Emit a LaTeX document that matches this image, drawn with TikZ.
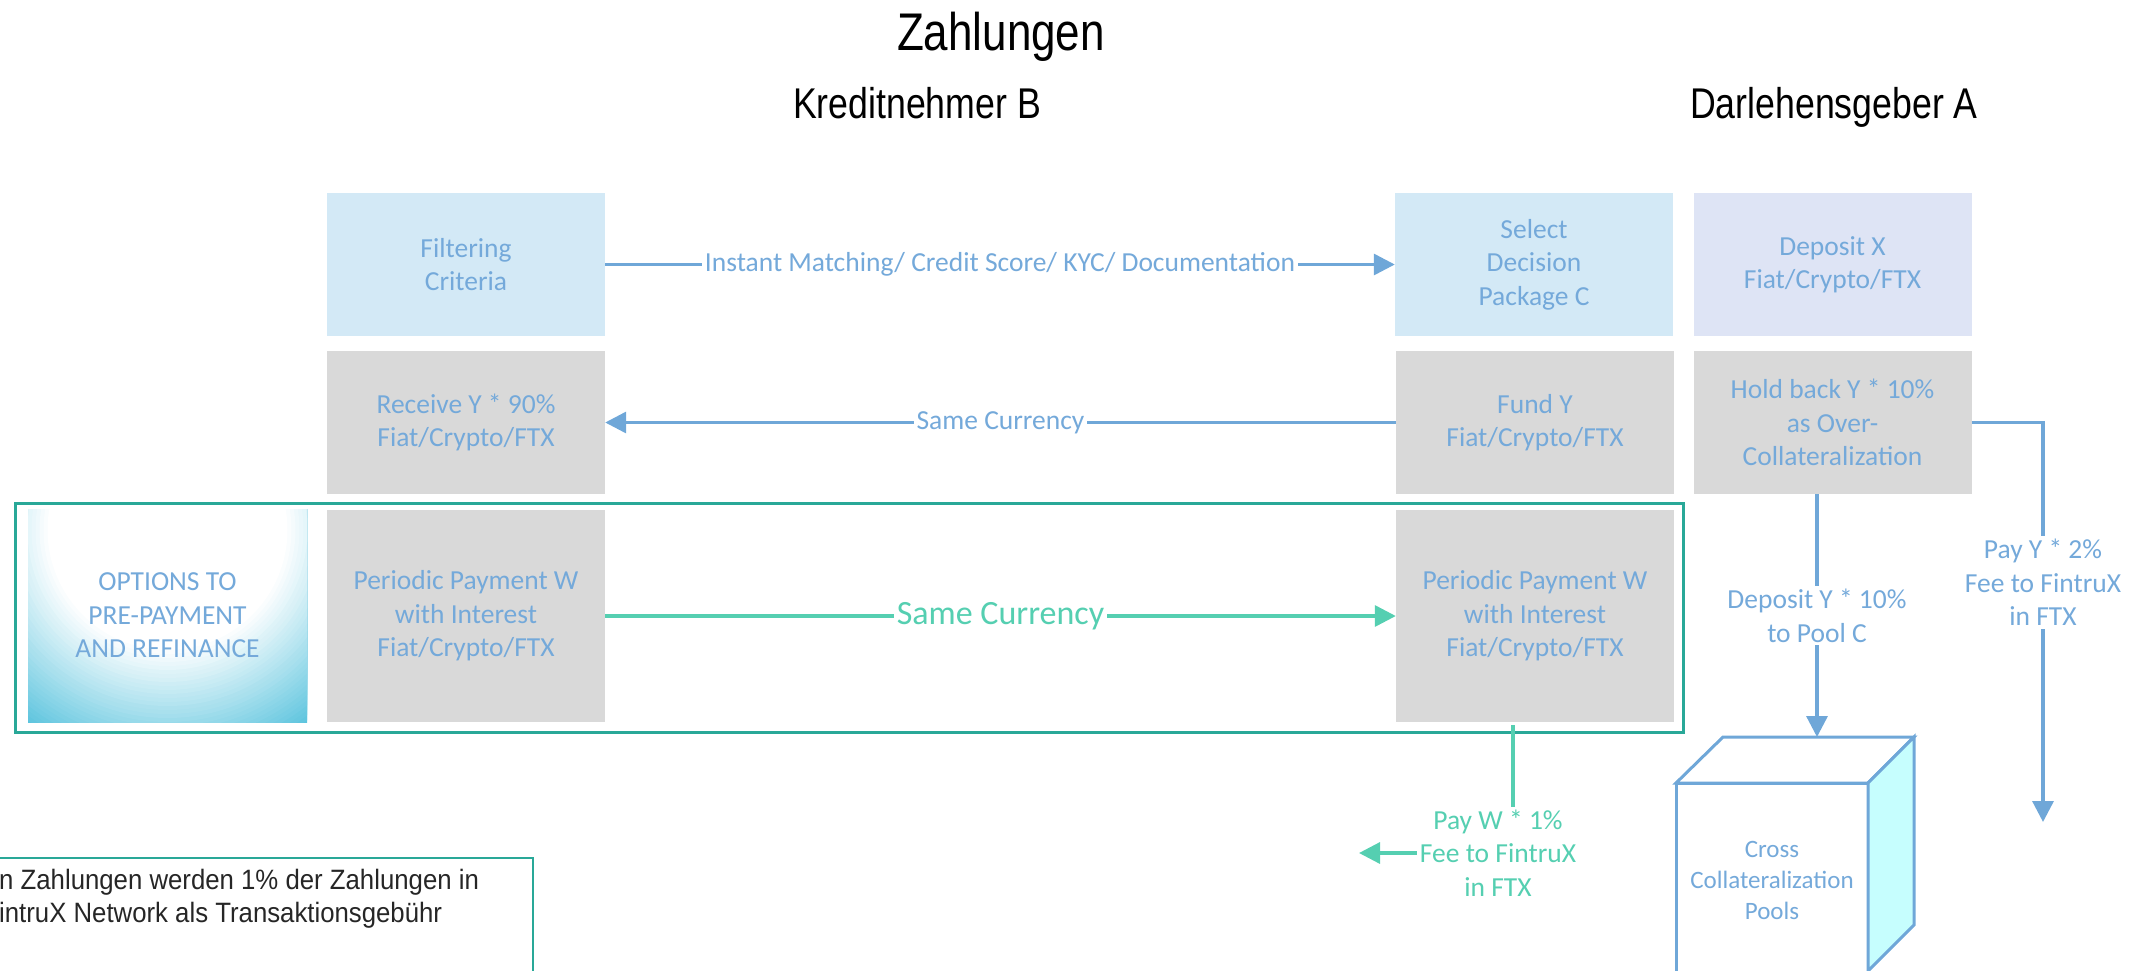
\documentclass[tikz,border=0pt]{standalone}
\usepackage{fontspec}
\setmainfont{Carlito}
\newfontfamily\headfont{Liberation Sans}[FakeStretch=0.83]
\newfontfamily\notefont{Liberation Sans}[FakeStretch=0.92]
\usetikzlibrary{arrows.meta}

\definecolor{boxblue}{HTML}{D3E9F6}
\definecolor{boxlilac}{HTML}{DEE4F5}
\definecolor{boxgrey}{HTML}{D9D9D9}
\definecolor{txtblue}{HTML}{74A9DA}
\definecolor{lineblue}{HTML}{6FA7D8}
\definecolor{mint}{HTML}{55CFB1}
\definecolor{frameteal}{HTML}{29A898}
\definecolor{optcyan}{HTML}{5CC4DE}
\definecolor{poolcyan}{HTML}{C6FEFE}

\begin{document}
\begin{tikzpicture}[x=1pt, y=-1pt,
    cell/.style={rectangle, minimum width=278pt, inner sep=2pt, text=txtblue, align=center, font=\fontsize{27.5}{33.5}\selectfont},
    tall/.style={minimum height=143pt},
    taller/.style={minimum height=212pt},
    flow/.style={line width=3.3pt, lineblue, -{Triangle[length=21pt,width=21pt]}},
    gflow/.style={line width=3.3pt, mint, -{Triangle[length=21pt,width=21pt]}},
    tag/.style={fill=white, text=txtblue, align=center, inner sep=3pt, font=\fontsize{27.5}{33.5}\selectfont},
    gtag/.style={tag, text=mint}]
    \useasboundingbox (0,0) rectangle (2153,970);
    \clip (0,0) rectangle (2153,970);

    \node[font=\headfont\fontsize{53}{60}\selectfont, anchor=base] (title) at (1001,50) {Zahlungen};
    \node[font=\headfont\fontsize{43}{50}\selectfont, anchor=base] (borrower) at (917,118) {Kreditnehmer B};
    \node[font=\headfont\fontsize{43}{50}\selectfont, anchor=base] (lender) at (1834,118) {Darlehensgeber A};

    % repayment frame
    \draw[frameteal, line width=3pt] (15,503) rectangle (1683,732);

    % glow behind the options box
    \begin{scope}
        \clip (28,509) rectangle (307,722);
        \foreach \r in {240,236,...,120} {
            \pgfmathtruncatemacro\mix{(\r-120)/1.2}
            \fill[optcyan!\mix!white] (167.5,530) circle (\r);
        }
    \end{scope}

    \node[cell, tall, fill=boxblue] (filt) at (466,264.5) {Filtering\\Criteria};
    \node[cell, tall, fill=boxblue] (sel) at (1534,264.5) {Select\\Decision\\Package C};
    \node[cell, tall, fill=boxlilac] (dep) at (1832.5,264.5) {Deposit X\\Fiat/Crypto/FTX};
    \node[cell, tall, fill=boxgrey] (recv) at (466,422.5) {Receive Y * 90\%\\Fiat/Crypto/FTX};
    \node[cell, tall, fill=boxgrey] (fund) at (1535,422.5) {Fund Y\\Fiat/Crypto/FTX};
    \node[cell, tall, fill=boxgrey] (hold) at (1832.5,422.5) {Hold back Y * 10\%\\as Over-\\Collateralization};
    \node[cell, taller, minimum width=279pt] (opts) at (167.5,615.5) {OPTIONS TO\\PRE-PAYMENT\\AND REFINANCE};
    \node[cell, taller, fill=boxgrey] (payB) at (466,616) {Periodic Payment W\\with Interest\\Fiat/Crypto/FTX};
    \node[cell, taller, fill=boxgrey] (payA) at (1535,616) {Periodic Payment W\\with Interest\\Fiat/Crypto/FTX};

    % pool cube
    \draw[lineblue, line width=3pt, fill=white] (1676,783) rectangle (1868,990);
    \draw[lineblue, line width=3pt, fill=white] (1676,783) -- (1723,737) -- (1914,737) -- (1868,783) -- cycle;
    \draw[lineblue, line width=3pt, fill=poolcyan] (1868,783) -- (1914,737) -- (1914,925) -- (1868,971) -- cycle;
    \node[text=txtblue, align=center, font=\fontsize{25}{31}\selectfont] (pool) at (1772,880) {Cross\\Collateralization\\Pools};

    \coordinate (pooltop) at (1817,737);
    \coordinate (feeY) at (2043,822);
    \coordinate (feeWtop) at (1513,725);
    \coordinate (feeWend) at (1359,853);

    \draw[flow] (filt) -- node[tag]{Instant Matching/ Credit Score/ KYC/ Documentation} (sel);
    \draw[flow] (fund) -- node[tag]{Same Currency} (recv);
    \draw[flow] (hold.east) -| node[tag, pos=0.7]{Pay Y * 2\%\\Fee to FintruX\\in FTX} (feeY);
    \draw[flow] (hold.south -| pooltop) -- node[tag]{Deposit Y * 10\%\\to Pool C} (pooltop);
    \draw[gflow] (payB) -- node[gtag, font=\fontsize{34}{40}\selectfont]{Same Currency} (payA);
    \draw[gflow] (feeWtop) |- node[gtag, xshift=-15pt]{Pay W * 1\%\\Fee to FintruX\\in FTX} (feeWend);

    % note box, cut at the left edge
    \draw[frameteal, line width=2.5pt] (-10,858) rectangle (533,990);
    \node[anchor=west, inner sep=0pt, align=left, text=black!85, font=\notefont\fontsize{28}{33}\selectfont] (note) at (-1,899) {n Zahlungen werden 1\% der Zahlungen in\\intruX Network als Transaktionsgebühr};
\end{tikzpicture}
\end{document}
